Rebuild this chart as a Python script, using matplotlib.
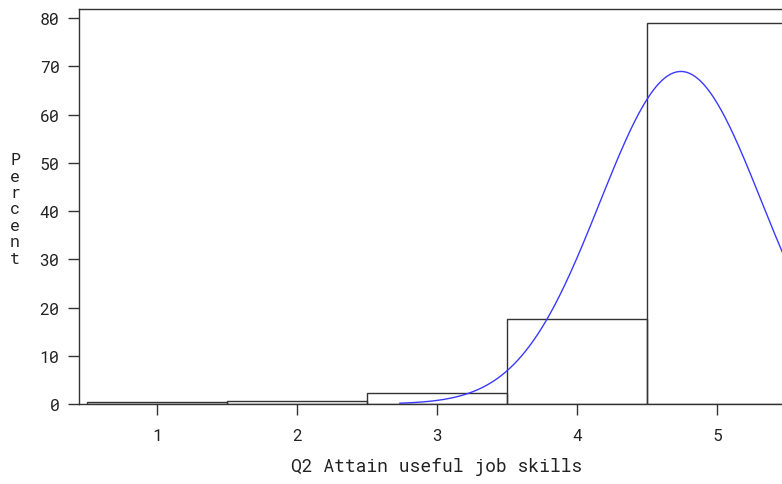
import numpy as np
import matplotlib
matplotlib.use("Agg")
import matplotlib.pyplot as plt

# histogram of Q2 responses (percent per category)
categories = [1, 2, 3, 4, 5]
percents = [0.48, 0.7, 2.3, 17.7, 78.9]
yticks = [0, 10, 20, 30, 40, 50, 60, 70, 80]

# fitted normal curve parameters
fit_mean = 4.742
fit_sigma = 0.5786
curve_start = 2.735

plt.rcParams['font.family'] = ['Roboto Mono', 'DejaVu Sans Mono']
plt.rcParams['font.weight'] = 'light'

fig = plt.figure(figsize=(7.82, 4.85), dpi=100)
W, H = 782, 485
left, right, top, bottom = 79, 795, 10, 405
ax = fig.add_axes([left / W, (H - bottom) / H, (right - left) / W, (bottom - top) / H])

ax.bar(categories, percents, width=1.0, fill=False, edgecolor='#333333', linewidth=1.0)

xs = np.linspace(curve_start, 5.6, 300)
ys = 100 / (fit_sigma * np.sqrt(2 * np.pi)) * np.exp(-0.5 * ((xs - fit_mean) / fit_sigma) ** 2)
ax.plot(xs, ys, color='#3a3aff', linewidth=1.0)

ax.set_xlim(0.443, 5.557)
ax.set_ylim(0, 81.9)
ax.set_xticks(categories)
ax.set_yticks(yticks)
ax.tick_params(direction='out', length=8, width=1, colors='#333333', labelsize=12, pad=6,
               labelcolor='#222222')
ax.tick_params(axis='x', pad=9)
for s in ax.spines.values():
    s.set_color('#333333')
    s.set_linewidth(1)

ax.set_xlabel("Q2 Attain useful job skills", fontsize=13, color='#222222', labelpad=10)
fig.text(15 / W, 1 - 210 / H, "\n".join("Percent"), fontsize=12, color='#222222',
         ha='center', va='center', linespacing=1.12)

fig.savefig("out.png", dpi=100)
